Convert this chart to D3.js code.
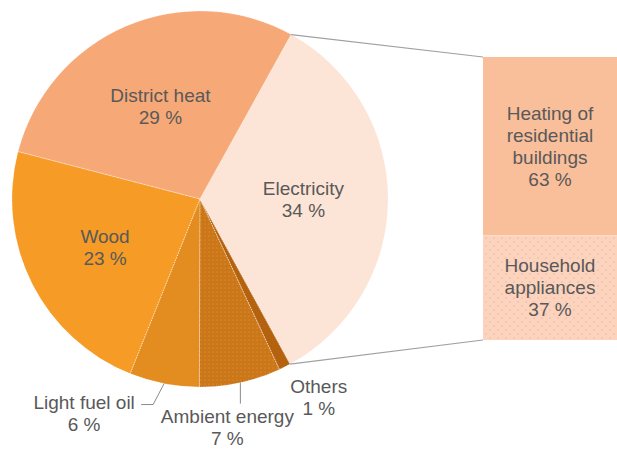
<!DOCTYPE html>
<html><head><meta charset="utf-8">
<script src="https://cdn.jsdelivr.net/npm/d3@7"></script>
<style>html,body{margin:0;padding:0;background:#fff;}svg{display:block;}</style>
</head><body>
<svg id="chart" width="617" height="449"></svg>
<script>
// ---- data ----
const categories = ["Electricity", "Others", "Ambient energy", "Light fuel oil", "Wood", "District heat"];
const values = [34, 1, 7, 6, 23, 29];
const subCategories = ["Heating of residential buildings", "Household appliances"];
const subValues = [63, 37];
const subLabelLines = [["Heating of", "residential", "buildings"], ["Household", "appliances"]];

// ---- layout / style ----
const W = 617, H = 449;
const cx = 200, cy = 199, R = 188;
const startDeg = 29;
const colors = {
  "Electricity": "#FCE4D6", "Others": "#B5620F", "Ambient energy": "url(#dotsAmb)",
  "Light fuel oil": "#E38C20", "Wood": "#F59B26", "District heat": "#F6A977"
};
const subColors = ["#F9BE9A", "url(#dotsHH)"];
const textCol = "#595959", fontSize = 19, lineH = 22, capH = 13.6;
// inner label radius factors
const innerK = {"Electricity": 0.55, "District heat": 0.535, "Wood": 0.566};
// outer labels: offset of text from arc edge point
const outer = {
  "Light fuel oil": {dx: -80, dy: 25.5, leader: [[-11, 21], [-23, 21]]},
  "Ambient energy": {dx: -13, dy: 40, leader: [[0, 21]]},
  "Others": {dx: 34, dy: 26, leader: null}
};

const svg = d3.select("#chart");
const defs = svg.append("defs");
const pa = defs.append("pattern").attr("id", "dotsAmb").attr("patternUnits", "userSpaceOnUse")
  .attr("width", 4).attr("height", 4);
pa.append("rect").attr("width", 4).attr("height", 4).attr("fill", "#CB7719");
pa.append("circle").attr("cx", 1).attr("cy", 1).attr("r", 0.55).attr("fill", "#E59A3A");
const ph = defs.append("pattern").attr("id", "dotsHH").attr("patternUnits", "userSpaceOnUse")
  .attr("width", 8).attr("height", 8);
ph.append("rect").attr("width", 8).attr("height", 8).attr("fill", "#FCD4BC");
ph.append("circle").attr("cx", 2).attr("cy", 2).attr("r", 0.7).attr("fill", "#F2A6C6");
ph.append("circle").attr("cx", 6).attr("cy", 6).attr("r", 0.7).attr("fill", "#F2A6C6");

const rad = d => d * Math.PI / 180;
const pie = d3.pie().sort(null).value(d => d.v)
  .startAngle(rad(startDeg)).endAngle(rad(startDeg + 360));
const data = categories.map((c, i) => ({c, v: values[i]}));
const arcs = pie(data);
const arc = d3.arc().innerRadius(0).outerRadius(R);

const g = svg.append("g").attr("transform", `translate(${cx},${cy})`);
g.selectAll("path.slice").data(arcs).join("path").attr("class", "slice")
  .attr("d", arc).attr("fill", d => colors[d.data.c]);
g.selectAll("path.sep").data(arcs).join("path").attr("class", "sep")
  .attr("d", arc).attr("fill", "none").attr("stroke", "#fff")
  .attr("stroke-width", 0.7).attr("stroke-dasharray", "1,1.5").attr("opacity", 0.7);

const polar = (a, r) => [r * Math.sin(a), -r * Math.cos(a)];

function multiText(parent, x, yFirst, lines, anchor) {
  const t = parent.append("text").attr("x", x).attr("y", yFirst)
    .attr("text-anchor", anchor || "middle").attr("fill", textCol)
    .attr("font-family", "Liberation Sans, Arial, sans-serif").attr("font-size", fontSize);
  lines.forEach((l, i) => t.append("tspan").attr("x", x).attr("y", yFirst + i * lineH).text(l));
}

arcs.forEach(d => {
  const mid = (d.startAngle + d.endAngle) / 2;
  const lines = [d.data.c, d.data.v + " %"];
  if (innerK[d.data.c]) {
    const [x, y] = polar(mid, R * innerK[d.data.c]);
    multiText(g, x, y - lineH / 2 + capH / 2, lines);
  } else {
    const o = outer[d.data.c];
    const [ex, ey] = polar(mid, R);
    if (o.leader) {
      const pts = [[ex, ey]].concat(o.leader.map(p => [ex + p[0], ey + p[1]]));
      g.append("path").attr("d", d3.line()(pts)).attr("fill", "none")
        .attr("stroke", "#8C8C8C").attr("stroke-width", 1);
    }
    multiText(g, ex + o.dx, ey + o.dy, lines);
  }
});

// ---- bar of pie ----
const barX0 = 483, barX1 = 620, barTop = 57, barBot = 340;
const y = d3.scaleLinear().domain([0, 100]).range([barBot, barTop]);
const stack = [];
let acc = 0;
subValues.forEach((v, i) => { stack.push({i, v, y0: 100 - acc - v, y1: 100 - acc}); acc += v; });
svg.selectAll("rect.sub").data(stack).join("rect").attr("class", "sub")
  .attr("x", barX0).attr("width", barX1 - barX0)
  .attr("y", d => y(d.y1)).attr("height", d => y(d.y0) - y(d.y1))
  .attr("fill", d => subColors[d.i]);
stack.forEach(d => {
  const mid = (y(d.y0) + y(d.y1)) / 2;
  const lines = subLabelLines[d.i].concat([d.v + " %"]);
  const first = mid - (lines.length - 1) * lineH / 2 + capH / 2;
  multiText(svg, (barX0 + 617) / 2, first, lines);
});

// connector lines
const el = arcs[0];
const pTop = polar(el.startAngle, R), pBot = polar(el.endAngle, R);
svg.append("line").attr("x1", cx + pTop[0]).attr("y1", cy + pTop[1])
  .attr("x2", barX0).attr("y2", y(100)).attr("stroke", "#A0A0A0").attr("stroke-width", 1.2);
svg.append("line").attr("x1", cx + pBot[0]).attr("y1", cy + pBot[1])
  .attr("x2", barX0).attr("y2", y(0)).attr("stroke", "#A0A0A0").attr("stroke-width", 1.2);
</script>
</body></html>
